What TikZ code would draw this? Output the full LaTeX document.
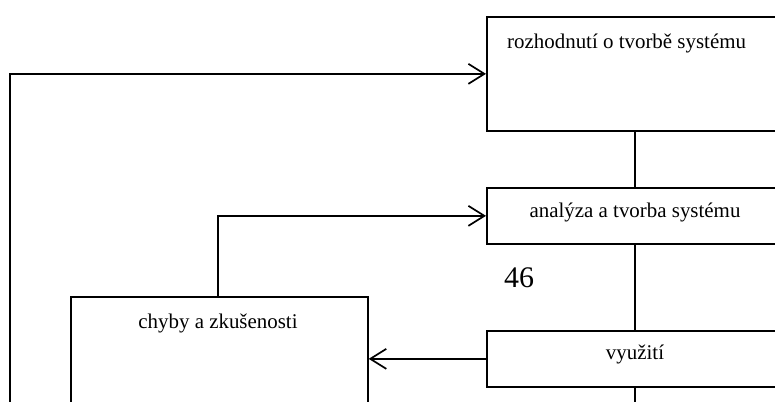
\documentclass[tikz,border=0pt]{standalone}
\usepackage{fontspec}
\setmainfont{Liberation Serif}
\usetikzlibrary{arrows.meta}
\begin{document}
\begin{tikzpicture}[x=1bp,y=-1bp,
  box/.style={draw, line width=1.7bp, rectangle, inner sep=0pt, anchor=north west},
  conn/.style={line width=1.7bp},
  arr/.style={conn, -{Straight Barb[length=16bp,width=20bp,line width=1.7bp]}},
  lbl/.style={font=\fontsize{21}{24}\selectfont, inner sep=0pt}]
\useasboundingbox (0,0) rectangle (775,401);
\clip (0,0) rectangle (775,401);
\coordinate (col) at (635,0);
\coordinate (c4) at (218,0);
\coordinate (bot) at (635,410);
\coordinate (lb) at (10,410);
\node[box, minimum width=330bp, minimum height=114bp] (b1) at (486,16) {};
\node[box, minimum width=330bp, minimum height=56bp] (b2) at (486,187) {};
\node[box, minimum width=330bp, minimum height=56bp] (b3) at (486,330) {};
\node[box, minimum width=297bp, minimum height=130bp] (b4) at (70,296) {};
\node[lbl, anchor=base west] (t1) at (507,48) {rozhodnutí o tvorbě systému};
\node[lbl, anchor=base] (t2) at (635,217) {analýza a tvorba systému};
\node[lbl, anchor=base] (t3) at (635,359) {využití};
\node[lbl, anchor=base] (t4) at (218,328) {chyby a zkušenosti};
\node[inner sep=0pt, anchor=base west, font=\fontsize{30}{32}\selectfont] (pg) at (504,287) {46};
\draw[conn] (b1.south -| col) -- (b2.north -| col);
\draw[conn] (b2.south -| col) -- (b3.north -| col);
\draw[conn] (b3.south -| col) -- (bot);
\draw[arr] (b3.west) -- (b4.east |- b3.west);
\draw[arr] (b4.north -| c4) |- (b2.west);
\draw[arr] (lb) |- (b1.west);
\end{tikzpicture}
\end{document}
